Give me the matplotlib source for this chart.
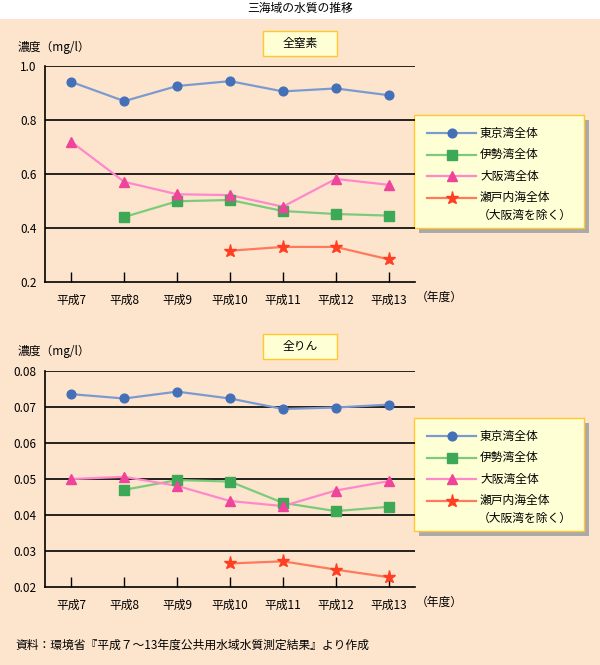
import matplotlib.pyplot as plt
from matplotlib.patches import Rectangle
from matplotlib.lines import Line2D

plt.rcParams['font.family'] = ['Noto Sans CJK JP', 'DejaVu Sans']

# Data
years = ['平成7', '平成8', '平成9', '平成10', '平成11', '平成12', '平成13']
series = ['東京湾全体', '伊勢湾全体', '大阪湾全体', '瀬戸内海全体\n（大阪湾を除く）']

tn_tokyo = [0.942, 0.871, 0.927, 0.945, 0.907, 0.918, 0.893]
tn_ise = [None, 0.442, 0.500, 0.505, 0.464, 0.453, 0.447]
tn_osaka = [0.720, 0.572, 0.526, 0.523, 0.480, 0.583, 0.561]
tn_seto = [None, None, None, 0.317, 0.331, 0.331, 0.285]

tp_tokyo = [0.0735, 0.0723, 0.0742, 0.0723, 0.0694, 0.0698, 0.0706]
tp_ise = [None, 0.0470, 0.0497, 0.0493, 0.0434, 0.0411, 0.0423]
tp_osaka = [0.0500, 0.0506, 0.0481, 0.0439, 0.0425, 0.0468, 0.0494]
tp_seto = [None, None, None, 0.0266, 0.0272, 0.0249, 0.0228]

tn_ticks = [0.2, 0.4, 0.6, 0.8, 1.0]
tp_ticks = [0.02, 0.03, 0.04, 0.05, 0.06, 0.07, 0.08]

# Styles
line_cols = ['#7B9BD0', '#7CCB7C', '#FF88CC', '#FF7A5C']
mark_cols = ['#4470B8', '#3DA856', '#EE4499', '#FF3E22']
markers = ['o', 's', '^', '*']
msizes = [6.3, 7, 7, 9.5]
BG = '#FDE5CD'
BOX = '#FFFFD6'
EDGE = '#FFC830'
W, H = 600, 665

fig = plt.figure(figsize=(W / 100, H / 100), dpi=100)
fig.patch.set_facecolor(BG)

# overlay in pixel units for title, boxes and legends
ov = fig.add_axes([0, 0, 1, 1], zorder=0)
ov.set_xlim(0, W)
ov.set_ylim(H, 0)
ov.axis('off')
ov.add_patch(Rectangle((0, 0), W, 19, facecolor='white', edgecolor='none'))
ov.text(300, 8, '三海域の水質の推移', ha='center', va='center', fontsize=8.5)


def panel(top, bottom, data, ticks, fmt, name, box_y, leg_y):
    ax = fig.add_axes([45 / W, 1 - bottom / H, 370 / W, (bottom - top) / H], zorder=2)
    ax.patch.set_alpha(0)
    x = list(range(len(years)))
    for i, vals in enumerate(data):
        xs = [xi for xi, v in zip(x, vals) if v is not None]
        ys = [v for v in vals if v is not None]
        ax.plot(xs, ys, color=line_cols[i], lw=1.6, zorder=3)
        ax.plot(xs, ys, ls='none', marker=markers[i], ms=msizes[i],
                color=mark_cols[i], mec=mark_cols[i], zorder=4)
    ax.set_xlim(-0.5, len(years) - 0.5)
    ax.set_ylim(ticks[0], ticks[-1])
    for t in ticks[1:]:
        ax.axhline(t, color='black', lw=1.2, zorder=1)
    ax.set_yticks(ticks)
    ax.set_yticklabels([fmt.format(t) for t in ticks], fontsize=8.5)
    ax.set_xticks(x)
    ax.set_xticklabels(years, fontsize=8.5)
    ax.tick_params(axis='y', length=0, pad=6)
    ax.tick_params(axis='x', direction='in', length=7, width=1, pad=8)
    for s in ['top', 'right']:
        ax.spines[s].set_visible(False)
    ax.spines['left'].set_linewidth(1.2)
    ax.spines['bottom'].set_linewidth(1.2)

    ov.text(18, top - 19, '濃度（mg/l）', ha='left', va='center', fontsize=8.5)
    ov.text(416, bottom + 15, '（年度）', ha='left', va='center', fontsize=8.5)
    ov.add_patch(Rectangle((263, box_y), 74, 25, facecolor=BOX, edgecolor=EDGE, lw=1))
    ov.text(300, box_y + 12.5, name, ha='center', va='center', fontsize=8.5)

    # legend with shadow
    ov.add_patch(Rectangle((419, leg_y + 5), 170, 113, facecolor='#AAAAAA',
                           edgecolor='none', zorder=3))
    ov.add_patch(Rectangle((414, leg_y), 170, 113, facecolor=BOX, edgecolor=EDGE,
                           lw=1, zorder=4))
    for i, lab in enumerate(series):
        yy = leg_y + 18 + i * 21.5
        ov.add_line(Line2D([427, 476], [yy, yy], color=line_cols[i], lw=1.6, zorder=5))
        ov.plot([451.5], [yy], marker=markers[i], ms=msizes[i], color=mark_cols[i],
                zorder=6)
        lines = lab.split('\n')
        ov.text(480, yy, lines[0], ha='left', va='center', fontsize=8.5, zorder=6)
        if len(lines) > 1:
            ov.text(478, yy + 18, lines[1], ha='left', va='center', fontsize=8.5, zorder=6)
    return ax


panel(66.3, 282.3, [tn_tokyo, tn_ise, tn_osaka, tn_seto], tn_ticks, '{:.1f}',
      '全窒素', 31, 115)
panel(370.7, 587.3, [tp_tokyo, tp_ise, tp_osaka, tp_seto], tp_ticks, '{:.2f}',
      '全りん', 334, 418)

ov.text(15, 645, '資料：環境省『平成７～13年度公共用水域水質測定結果』より作成',
        ha='left', va='center', fontsize=8.5)

plt.savefig('out.png', dpi=100, facecolor=fig.get_facecolor())
